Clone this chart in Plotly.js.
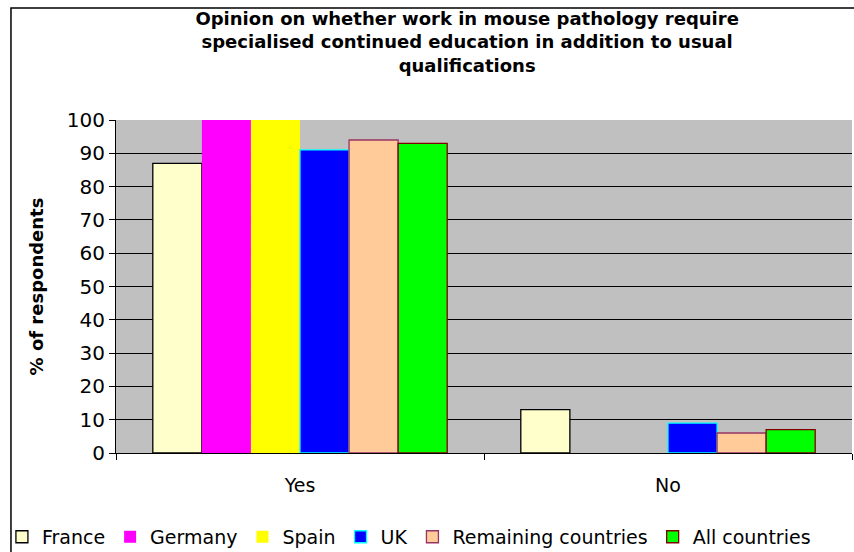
<!DOCTYPE html>
<html>
<head>
<meta charset="utf-8">
<script src="https://cdn.plot.ly/plotly-3.0.1.min.js"></script>
<style>html,body{margin:0;padding:0;background:#fff;}#chart{width:854px;height:552px;}</style>
</head>
<body>
<div id="chart"></div>
<script>
const categories = ["Yes", "No"];
const seriesNames = ["France", "Germany", "Spain", "UK", "Remaining countries", "All countries"];
const franceValues = [87, 13];
const germanyValues = [100, 0];
const spainValues = [100, 0];
const ukValues = [91, 9];
const remainingValues = [94, 6];
const allValues = [93, 7];
const yTickValues = [0, 10, 20, 30, 40, 50, 60, 70, 80, 90, 100];

const seriesValues = [franceValues, germanyValues, spainValues, ukValues, remainingValues, allValues];
const fills = ["#FFFFCC", "#FF00FF", "#FFFF00", "#0000FF", "#FFCC99", "#00FF00"];
const borders = ["#000000", "#FF00FF", "#FFFF00", "#00FFFF", "#993366", "#800000"];
const borderWidths = [1.3, 0, 0, 1.3, 1.3, 1.3];

const FONT = "DejaVu Sans, Liberation Sans, Arial, sans-serif";

const traces = seriesNames.map((name, i) => ({
  type: "bar",
  name: name,
  x: categories,
  y: seriesValues[i],
  marker: {color: fills[i], line: {color: borders[i], width: borderWidths[i]}},
  hoverinfo: "none"
}));

const layout = {
  width: 854,
  height: 552,
  margin: {l: 116, r: 2, t: 120, b: 99, autoexpand: false},
  paper_bgcolor: "#FFFFFF",
  plot_bgcolor: "#C0C0C0",
  font: {family: FONT, size: 18, color: "#000000"},
  bargap: 0.2,
  bargroupgap: 0,
  barmode: "group",
  title: {
    text: "<b>Opinion on whether work in mouse pathology require<br>specialised continued education in addition to usual<br>qualifications</b>",
    font: {family: FONT, size: 18, color: "#000000"},
    xref: "container", yref: "container",
    x: 0.547, y: 0.955, xanchor: "center", yanchor: "middle"
  },
  xaxis: {
    type: "category",
    showline: true, linecolor: "#000000", linewidth: 1,
    ticks: "outside", tickson: "boundaries", ticklen: 6, tickcolor: "#000000",
    showgrid: false,
    tickfont: {family: FONT, size: 19},
    ticklabelstandoff: 15,
    fixedrange: true
  },
  yaxis: {
    range: [0, 100],
    tickvals: yTickValues,
    showline: true, linecolor: "#000000", linewidth: 1,
    ticks: "outside", ticklen: 6, tickcolor: "#000000",
    showgrid: true, gridcolor: "#000000", gridwidth: 1,
    zeroline: false,
    tickfont: {family: FONT, size: 20},
    title: {text: "<b>% of respondents</b>", font: {family: FONT, size: 18}, standoff: 18},
    fixedrange: true
  },
  legend: {
    orientation: "h",
    x: -0.155, xanchor: "left",
    y: -0.252, yanchor: "middle",
    font: {family: FONT, size: 19},
    bgcolor: "rgba(0,0,0,0)",
    itemwidth: 30,
    tracegroupgap: 0
  },
  shapes: [{
    type: "rect", xref: "paper", yref: "paper",
    x0: -0.1427, x1: 1.05, y0: -0.4, y1: 1.336,
    line: {color: "#000000", width: 1.5}, fillcolor: "rgba(0,0,0,0)", layer: "below"
  }]
};

Plotly.newPlot("chart", traces, layout, {displayModeBar: false, staticPlot: true});
</script>
</body>
</html>
